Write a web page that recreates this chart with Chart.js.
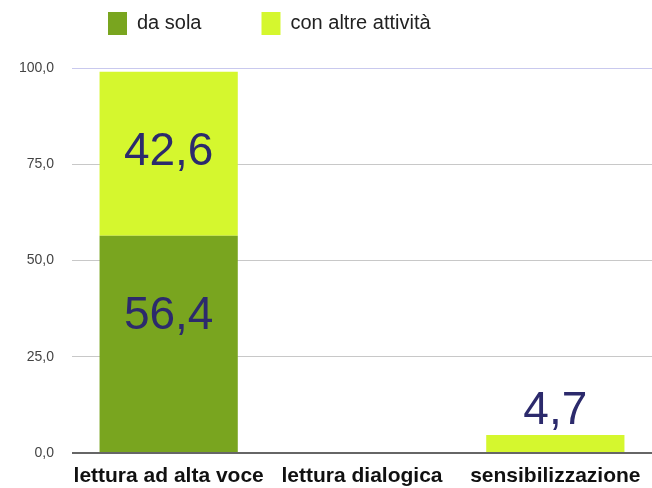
<!DOCTYPE html>
<html>
<head>
<meta charset="utf-8">
<script src="https://cdn.jsdelivr.net/npm/chart.js@4"></script>
<style>
  html, body { margin: 0; padding: 0; background: #fff; }
  #wrap { width: 652px; height: 488px; }
</style>
</head>
<body>
<div id="wrap"><canvas id="chart" width="652" height="488"></canvas></div>
<script>
let categories = ['lettura ad alta voce', 'lettura dialogica', 'sensibilizzazione'];
let daSola = [56.4, 0, 0];
let conAltre = [42.6, 0, 4.7];
let yTicks = [0, 25, 50, 75, 100];

const legendPad = 60;

function fmt(v){
    return v.toFixed(1).replace('.', ',');
}

// numbers written on the bars
let valueLabels = {
    id: 'valueLabels',
    afterDatasetsDraw(chart){
        let ctx = chart.ctx;
        ctx.save();
        ctx.font = '46px "Liberation Sans", Arial, sans-serif';
        ctx.fillStyle = '#2c2a6c';
        ctx.textAlign = 'center';
        ctx.textBaseline = 'middle';
        chart.data.datasets.forEach((dataset, i) => {
            let meta = chart.getDatasetMeta(i);
            meta.data.forEach((bar, j) => {
                let v = dataset.data[j];
                if (!v) return;
                let h = bar.base - bar.y;
                let ty;
                if (h < 50) {
                    ty = bar.y - 24;
                } else {
                    ty = Math.min((bar.y + bar.base) / 2, bar.y + 80);
                }
                ctx.fillText(fmt(v), bar.x, ty);
            });
        });
        ctx.restore();
    }
};

// move the legend up/left, it sits off-centre in the original
let legendShift = {
    id: 'legendShift',
    afterLayout(chart){
        let lg = chart.legend;
        let w = lg.right - lg.left;
        lg.top = 12 - legendPad;
        lg.left = 108 - legendPad;
        lg.right = lg.left + w;
    }
};

let context = document.getElementById('chart').getContext('2d');
let chart = new Chart(context, {
    type: 'bar',
    data: {
        labels: categories,
        datasets: [{
            label: 'da sola',
            data: daSola,
            backgroundColor: '#79a51f',
            borderWidth: 0,
            barPercentage: 0.715,
            categoryPercentage: 1
        }, {
            label: 'con altre attività',
            data: conAltre,
            backgroundColor: '#d5f72e',
            borderWidth: 0,
            barPercentage: 0.715,
            categoryPercentage: 1
        }]
    },
    options: {
        responsive: false,
        animation: false,
        layout: { padding: { top: -25, right: 0, left: 0, bottom: 0 } },
        plugins: {
            legend: {
                position: 'top',
                align: 'start',
                labels: {
                    boxWidth: 19,
                    boxHeight: 23,
                    padding: legendPad,
                    color: '#222',
                    font: { family: '"Liberation Sans", Arial, sans-serif', size: 20 }
                }
            },
            tooltip: { enabled: false }
        },
        scales: {
            x: {
                stacked: true,
                grid: { display: false },
                border: { display: false },
                ticks: {
                    color: '#111',
                    maxRotation: 0,
                    autoSkip: false,
                    padding: 3,
                    font: { family: '"Liberation Sans", Arial, sans-serif', size: 21, weight: 'bold' }
                },
                afterFit(scale){ scale.height = 35; }
            },
            y: {
                stacked: true,
                min: 0,
                max: 100,
                afterBuildTicks(scale){
                    scale.ticks = yTicks.map(v => ({ value: v }));
                },
                border: { display: false },
                grid: {
                    drawTicks: false,
                    color: ctx => ctx.tick.value === 0 ? '#666' : (ctx.tick.value === 100 ? '#c9c9ee' : '#c8c8c8'),
                    lineWidth: ctx => ctx.tick.value === 0 ? 2 : 1
                },
                ticks: {
                    color: '#444',
                    padding: 18,
                    font: { family: '"Liberation Sans", Arial, sans-serif', size: 14 },
                    callback: v => fmt(v)
                },
                afterFit(scale){ scale.width = 72; }
            }
        }
    },
    plugins: [valueLabels, legendShift]
});
</script>
</body>
</html>
